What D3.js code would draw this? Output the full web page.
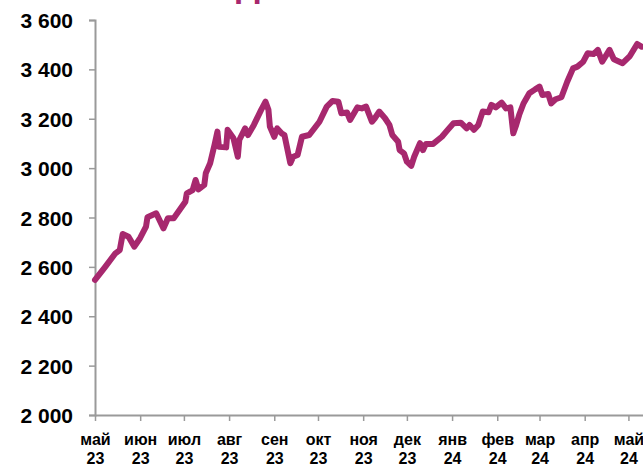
<!DOCTYPE html>
<html>
<head>
<meta charset="utf-8">
<script src="https://cdn.jsdelivr.net/npm/d3@7"></script>
<style>
  body { margin: 0; background: #fff; }
  svg { display: block; }
  .tick text { font-family: "Liberation Sans", Arial, sans-serif; font-weight: bold; fill: #000; }
</style>
</head>
<body>
<div id="chart"></div>
<script>
var svgWidth = 643;
var svgHeight = 466;

// data
var dates = [
  "2023-05-01", "2023-05-08", "2023-05-15", "2023-05-18", "2023-05-20", "2023-05-24", "2023-05-28",
  "2023-06-01", "2023-06-05", "2023-06-06", "2023-06-12", "2023-06-17", "2023-06-20", "2023-06-24",
  "2023-06-28", "2023-07-02", "2023-07-03", "2023-07-07", "2023-07-09", "2023-07-11", "2023-07-15",
  "2023-07-16", "2023-07-19", "2023-07-22", "2023-07-24", "2023-07-25", "2023-07-30", "2023-07-31",
  "2023-08-04", "2023-08-07", "2023-08-08", "2023-08-12", "2023-08-14", "2023-08-18", "2023-08-23",
  "2023-08-26", "2023-08-28", "2023-08-29", "2023-09-01", "2023-09-03", "2023-09-06", "2023-09-08",
  "2023-09-12", "2023-09-14", "2023-09-17", "2023-09-20", "2023-09-25", "2023-10-02", "2023-10-07",
  "2023-10-11", "2023-10-15", "2023-10-17", "2023-10-21", "2023-10-23", "2023-10-28", "2023-10-31",
  "2023-11-03", "2023-11-07", "2023-11-09", "2023-11-12", "2023-11-16", "2023-11-19", "2023-11-21",
  "2023-11-25", "2023-11-26", "2023-11-29", "2023-12-01", "2023-12-04", "2023-12-06", "2023-12-10",
  "2023-12-12", "2023-12-14", "2023-12-19", "2023-12-25", "2023-12-29", "2024-01-02", "2024-01-07",
  "2024-01-11", "2024-01-13", "2024-01-16", "2024-01-19", "2024-01-22", "2024-01-26", "2024-01-28",
  "2024-01-31", "2024-02-04", "2024-02-07", "2024-02-10", "2024-02-12", "2024-02-14", "2024-02-16",
  "2024-02-19", "2024-02-23", "2024-02-27", "2024-03-01", "2024-03-03", "2024-03-07", "2024-03-09",
  "2024-03-12", "2024-03-16", "2024-03-20", "2024-03-24", "2024-03-27", "2024-03-31", "2024-04-03",
  "2024-04-07", "2024-04-10", "2024-04-13", "2024-04-18", "2024-04-21", "2024-04-27", "2024-05-02",
  "2024-05-07", "2024-05-10"
];

var values = [
  2547, 2600, 2655, 2668, 2733, 2722, 2682,
  2717, 2763, 2801, 2817, 2756, 2797, 2797,
  2830, 2864, 2898, 2911, 2952, 2914, 2932,
  2979, 3020, 3094, 3148, 3087, 3084, 3155,
  3121, 3046, 3114, 3161, 3134, 3175, 3236,
  3269, 3236, 3168, 3127, 3161, 3141, 3134,
  3020, 3046, 3053, 3127, 3134, 3188, 3249,
  3272, 3269, 3222, 3225, 3195, 3246, 3242,
  3249, 3188, 3202, 3229, 3202, 3175, 3134,
  3107, 3073, 3060, 3026, 3009, 3046, 3101,
  3073, 3098, 3098, 3127, 3155, 3182, 3184,
  3161, 3175, 3155, 3175, 3229, 3226, 3256,
  3246, 3265, 3242, 3246, 3141, 3175, 3215,
  3262, 3303, 3319, 3330, 3296, 3300, 3262,
  3279, 3287, 3350, 3404, 3411, 3431, 3465,
  3462, 3479, 3431, 3479, 3441, 3425, 3454,
  3503, 3492
];

var yTicks = [2000, 2200, 2400, 2600, 2800, 3000, 3200, 3400, 3600];
var monthNames = ["янв", "фев", "мар", "апр", "май", "июн", "июл", "авг", "сен", "окт", "ноя", "дек"];
var titleText = "Индекс";

var parseDate = d3.timeParse("%Y-%m-%d");
var series = dates.map(function(d, i) {
  return { date: parseDate(d), value: values[i] };
});

var svg = d3.select("#chart")
  .append("svg")
  .attr("width", svgWidth)
  .attr("height", svgHeight);

// scales
var xScale = d3.scaleTime()
  .domain([parseDate("2023-05-01"), parseDate("2024-05-11")])
  .range([95, 643]);

var yScale = d3.scaleLinear()
  .domain([2000, 3600])
  .range([415, 20]);

var fmt = d3.formatLocale({ decimal: ",", thousands: " ", grouping: [3], currency: ["", ""] }).format(",d");

// y axis
var leftAxis = d3.axisLeft(yScale)
  .tickValues(yTicks)
  .tickSize(6)
  .tickPadding(16)
  .tickFormat(fmt);

var yAxis = svg.append("g")
  .attr("transform", "translate(95,0)")
  .call(leftAxis);

yAxis.select(".domain").attr("stroke", "#9a9a9a").attr("stroke-width", 2);
yAxis.selectAll(".tick line").attr("stroke", "#9a9a9a").attr("stroke-width", 1.5);
yAxis.selectAll(".tick text").attr("font-size", 21).attr("dy", "0.36em");

// x axis
var bottomAxis = d3.axisBottom(xScale)
  .ticks(d3.timeMonth.every(1))
  .tickSize(6)
  .tickSizeOuter(0)
  .tickFormat("");

var xAxis = svg.append("g")
  .attr("transform", "translate(0,415)")
  .call(bottomAxis);

xAxis.select(".domain").attr("stroke", "#9a9a9a").attr("stroke-width", 2);
xAxis.selectAll(".tick line").attr("stroke", "#9a9a9a").attr("stroke-width", 1.5);

var xLabels = xAxis.selectAll(".tick text")
  .attr("font-size", 16)
  .attr("y", 0)
  .attr("dy", 0)
  .text(null);

xLabels.append("tspan")
  .attr("x", 0)
  .attr("y", 30)
  .text(function(d) { return monthNames[d.getMonth()]; });

xLabels.append("tspan")
  .attr("x", 0)
  .attr("y", 49)
  .text(function(d) { return d3.timeFormat("%y")(d); });

// the line
var line = d3.line()
  .x(function(d) { return xScale(d.date); })
  .y(function(d) { return yScale(d.value); });

svg.append("path")
  .datum(series)
  .attr("fill", "none")
  .attr("stroke", "#a7286e")
  .attr("stroke-width", 6)
  .attr("stroke-linejoin", "round")
  .attr("stroke-linecap", "round")
  .attr("d", line);

// title, cut off at the top of the picture as in the source
var title = svg.append("text")
  .attr("font-family", "Liberation Sans, Arial, sans-serif")
  .attr("font-weight", "bold")
  .attr("font-size", 38)
  .attr("fill", "#a7286e")
  .attr("x", 0)
  .attr("y", -4)
  .text(titleText);

var dPos = title.node().getStartPositionOfChar(2).x;
title.attr("x", 236 - dPos);
</script>
</body>
</html>
